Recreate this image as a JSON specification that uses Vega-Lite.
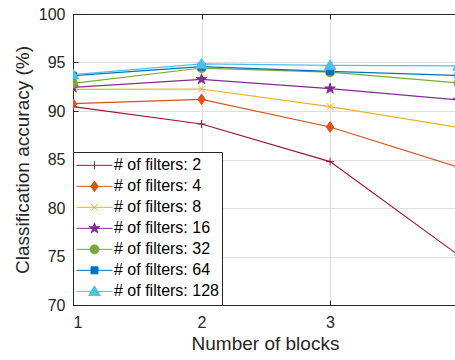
{
  "$schema": "https://vega.github.io/schema/vega-lite/v6.json",
  "width": 382,
  "height": 291,
  "autosize": {"type": "none"},
  "padding": {"left": 73, "top": 14, "right": 0, "bottom": 55},
  "background": "white",
  "config": {
    "view": {"stroke": null},
    "font": "Liberation Sans",
    "axis": {
      "labelFont": "Liberation Sans",
      "titleFont": "Liberation Sans",
      "labelFontSize": 16,
      "titleFontSize": 19,
      "titleFontWeight": "normal",
      "labelColor": "#262626",
      "titleColor": "#262626",
      "domainColor": "#262626",
      "tickColor": "#262626",
      "gridColor": "#dfdfdf",
      "gridOpacity": 1,
      "tickSize": -5
    }
  },
  "data": {
    "values": [
      {"series": "# of filters: 2", "blocks": 1, "acc": 90.45},
      {"series": "# of filters: 2", "blocks": 2, "acc": 88.66},
      {"series": "# of filters: 2", "blocks": 3, "acc": 84.78},
      {"series": "# of filters: 2", "blocks": 4, "acc": 75.13},
      {"series": "# of filters: 4", "blocks": 1, "acc": 90.75},
      {"series": "# of filters: 4", "blocks": 2, "acc": 91.2},
      {"series": "# of filters: 4", "blocks": 3, "acc": 88.35},
      {"series": "# of filters: 4", "blocks": 4, "acc": 84.2},
      {"series": "# of filters: 8", "blocks": 1, "acc": 92.23},
      {"series": "# of filters: 8", "blocks": 2, "acc": 92.27},
      {"series": "# of filters: 8", "blocks": 3, "acc": 90.45},
      {"series": "# of filters: 8", "blocks": 4, "acc": 88.31},
      {"series": "# of filters: 16", "blocks": 1, "acc": 92.44},
      {"series": "# of filters: 16", "blocks": 2, "acc": 93.27},
      {"series": "# of filters: 16", "blocks": 3, "acc": 92.3},
      {"series": "# of filters: 16", "blocks": 4, "acc": 91.13},
      {"series": "# of filters: 32", "blocks": 1, "acc": 92.85},
      {"series": "# of filters: 32", "blocks": 2, "acc": 94.43},
      {"series": "# of filters: 32", "blocks": 3, "acc": 94.0},
      {"series": "# of filters: 32", "blocks": 4, "acc": 92.89},
      {"series": "# of filters: 64", "blocks": 1, "acc": 93.65},
      {"series": "# of filters: 64", "blocks": 2, "acc": 94.57},
      {"series": "# of filters: 64", "blocks": 3, "acc": 94.09},
      {"series": "# of filters: 64", "blocks": 4, "acc": 93.67},
      {"series": "# of filters: 128", "blocks": 1, "acc": 93.74},
      {"series": "# of filters: 128", "blocks": 2, "acc": 94.85},
      {"series": "# of filters: 128", "blocks": 3, "acc": 94.71},
      {"series": "# of filters: 128", "blocks": 4, "acc": 94.64}
    ]
  },
  "resolve": {"axis": {"x": "independent"}},
  "layer": [
    {
      "mark": {"type": "point", "filled": true, "opacity": 1, "size": 0, "strokeWidth": 1, "clip": true},
      "encoding": {
        "x": {
          "field": "blocks", "type": "quantitative",
          "scale": {"domain": [1, 3.972], "nice": false, "zero": false},
          "axis": {"orient": "top", "values": [1, 2, 3, 4], "labels": false, "grid": false, "title": null}
        },
        "y": {
          "field": "acc", "type": "quantitative",
          "scale": {"domain": [70, 100], "nice": false, "zero": false}
        },
        "color": {
          "field": "series", "type": "nominal",
          "scale": {
            "domain": ["# of filters: 2", "# of filters: 4", "# of filters: 8", "# of filters: 16", "# of filters: 32", "# of filters: 64", "# of filters: 128"],
            "range": ["#A2142F", "#D95319", "#EDB120", "#7E2F8E", "#77AC30", "#0072BD", "#4DBEEE"]
          },
          "legend": {
            "title": null,
            "orient": "bottom-left",
            "offset": 0,
            "padding": 3,
            "strokeColor": "#262626",
            "fillColor": "white",
            "cornerRadius": 0,
            "symbolSize": 1296,
            "symbolOpacity": 1,
            "symbolStrokeWidth": 1,
            "clipHeight": 20.7,
            "symbolOffset": 0,
            "labelOffset": 1,
            "labelFont": "Liberation Sans",
            "labelFontSize": 16,
            "labelColor": "#000000",
            "labelLimit": 300,
            "rowPadding": 0
          }
        },
        "stroke": {
          "field": "series", "type": "nominal",
          "scale": {
            "domain": ["# of filters: 2", "# of filters: 4", "# of filters: 8", "# of filters: 16", "# of filters: 32", "# of filters: 64", "# of filters: 128"],
            "range": ["#A2142F", "#D95319", "#EDB120", "#7E2F8E", "#77AC30", "#0072BD", "#4DBEEE"]
          },
          "legend": null
        },
        "shape": {
          "field": "series", "type": "nominal",
          "scale": {
            "domain": ["# of filters: 2", "# of filters: 4", "# of filters: 8", "# of filters: 16", "# of filters: 32", "# of filters: 64", "# of filters: 128"],
            "range": [
              "M-1,0H1M0,-0.222V0.222",
              "M-1,0H1M0,-0.292L0.208,0L0,0.292L-0.208,0Z",
              "M-1,0H1M-0.194,-0.194L0.194,0.194M-0.194,0.194L0.194,-0.194",
              "M-1,0H1M0,-0.306L0.069,-0.095L0.291,-0.095L0.111,0.036L0.18,0.247L0,0.117L-0.18,0.247L-0.111,0.036L-0.291,-0.095L-0.069,-0.095Z",
              "M-1,0H1M-0.25,0A0.25,0.25 0 1,0 0.25,0A0.25,0.25 0 1,0 -0.25,0Z",
              "M-1,0H1M-0.194,-0.194H0.194V0.194H-0.194Z",
              "M-1,0H1M0,-0.306L0.32,0.236L-0.32,0.236Z"
            ]
          },
          "legend": null
        }
      }
    },
    {
      "mark": {"type": "line", "strokeWidth": 1.2, "clip": true},
      "encoding": {
        "x": {
          "field": "blocks", "type": "quantitative",
          "axis": {"values": [1, 2, 3, 4], "grid": true, "title": "Number of blocks", "labelPadding": 14, "titlePadding": 4, "titleX": 192, "format": "d"}
        },
        "y": {
          "field": "acc", "type": "quantitative",
          "axis": {"values": [70, 75, 80, 85, 90, 95, 100], "grid": true, "title": "Classification accuracy (%)", "labelPadding": 13, "titlePadding": 6}
        },
        "color": {"field": "series", "type": "nominal"},
        "order": {"field": "blocks", "type": "quantitative"}
      }
    },
    {
      "transform": [{"filter": "datum.series === '# of filters: 2'"}],
      "mark": {"type": "point", "shape": "M-0.8,0H0.8M0,-0.8V0.8", "filled": true, "fill": "#A2142F", "stroke": "#A2142F", "opacity": 1, "size": 100, "strokeWidth": 1, "clip": true},
      "encoding": {"x": {"field": "blocks", "type": "quantitative", "axis": null}, "y": {"field": "acc", "type": "quantitative"}}
    },
    {
      "transform": [{"filter": "datum.series === '# of filters: 4'"}],
      "mark": {"type": "point", "shape": "M0,-1.05L0.75,0L0,1.05L-0.75,0Z", "filled": true, "fill": "#D95319", "stroke": "#D95319", "opacity": 1, "size": 100, "strokeWidth": 1, "clip": true},
      "encoding": {"x": {"field": "blocks", "type": "quantitative", "axis": null}, "y": {"field": "acc", "type": "quantitative"}}
    },
    {
      "transform": [{"filter": "datum.series === '# of filters: 8'"}],
      "mark": {"type": "point", "shape": "M-0.7,-0.7L0.7,0.7M-0.7,0.7L0.7,-0.7", "filled": true, "fill": "#EDB120", "stroke": "#EDB120", "opacity": 1, "size": 100, "strokeWidth": 1, "clip": true},
      "encoding": {"x": {"field": "blocks", "type": "quantitative", "axis": null}, "y": {"field": "acc", "type": "quantitative"}}
    },
    {
      "transform": [{"filter": "datum.series === '# of filters: 16'"}],
      "mark": {"type": "point", "shape": "M0,-1.1L0.247,-0.34L1.046,-0.34L0.399,0.13L0.647,0.89L0,0.42L-0.647,0.89L-0.399,0.13L-1.046,-0.34L-0.247,-0.34Z", "filled": true, "fill": "#7E2F8E", "stroke": "#7E2F8E", "opacity": 1, "size": 100, "strokeWidth": 1, "clip": true},
      "encoding": {"x": {"field": "blocks", "type": "quantitative", "axis": null}, "y": {"field": "acc", "type": "quantitative"}}
    },
    {
      "transform": [{"filter": "datum.series === '# of filters: 32'"}],
      "mark": {"type": "point", "shape": "M-0.9,0A0.9,0.9 0 1,0 0.9,0A0.9,0.9 0 1,0 -0.9,0Z", "filled": true, "fill": "#77AC30", "stroke": "#77AC30", "opacity": 1, "size": 100, "strokeWidth": 1, "clip": true},
      "encoding": {"x": {"field": "blocks", "type": "quantitative", "axis": null}, "y": {"field": "acc", "type": "quantitative"}}
    },
    {
      "transform": [{"filter": "datum.series === '# of filters: 64'"}],
      "mark": {"type": "point", "shape": "M-0.7,-0.7H0.7V0.7H-0.7Z", "filled": true, "fill": "#0072BD", "stroke": "#0072BD", "opacity": 1, "size": 100, "strokeWidth": 1, "clip": true},
      "encoding": {"x": {"field": "blocks", "type": "quantitative", "axis": null}, "y": {"field": "acc", "type": "quantitative"}}
    },
    {
      "transform": [{"filter": "datum.series === '# of filters: 128'"}],
      "mark": {"type": "point", "shape": "M0,-1.1L1.15,0.85L-1.15,0.85Z", "filled": true, "fill": "#4DBEEE", "stroke": "#4DBEEE", "opacity": 1, "size": 100, "strokeWidth": 1, "clip": true},
      "encoding": {"x": {"field": "blocks", "type": "quantitative", "axis": null}, "y": {"field": "acc", "type": "quantitative"}}
    }
  ]
}
